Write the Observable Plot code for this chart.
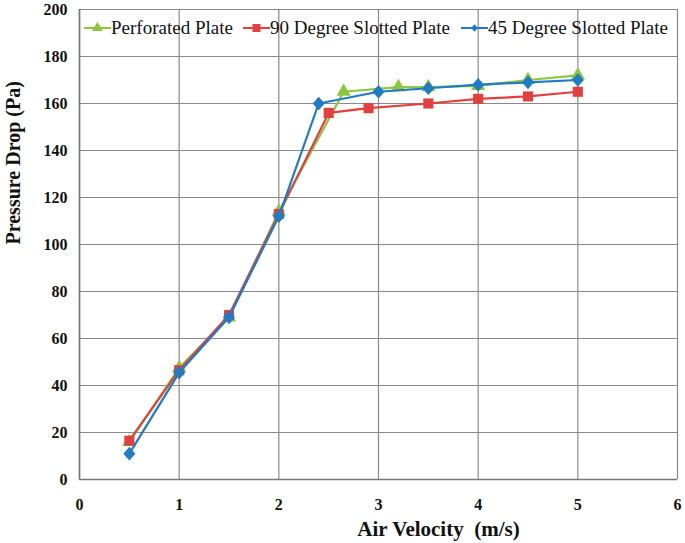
<!DOCTYPE html>
<html>
<head>
<meta charset="utf-8">
<script src="https://cdn.jsdelivr.net/npm/d3@7"></script>
<script src="https://cdn.jsdelivr.net/npm/@observablehq/plot@0.6"></script>
<style>
  body { margin: 0; background: #fff; }
  #wrap { position: relative; width: 685px; height: 543px; font-family: "Liberation Serif", "DejaVu Serif", serif; }
  #legend { position: absolute; top: 17px; left: 0; width: 685px; height: 24px; font-size: 19px; color: #111; white-space: nowrap; }
  #legend .item { position: absolute; top: 0; display: flex; align-items: center; }
  #legend svg { margin-right: 0px; }
</style>
</head>
<body>
<div id="wrap"><div id="legend"></div></div>
<script>
const seriesNames = ["Perforated Plate", "90 Degree Slotted Plate", "45 Degree Slotted Plate"];
const seriesColors = ["#8dc63f", "#e2403f", "#1f7bc4"];

const perforatedX = [0.5, 1, 1.5, 2, 2.65, 3.2, 3.5, 4, 4.5, 5];
const perforatedY = [16, 47.5, 69, 114, 165, 167, 167, 167.5, 170, 172];
const slot90X = [0.5, 1, 1.5, 2, 2.5, 2.9, 3.5, 4, 4.5, 5];
const slot90Y = [16.5, 46.5, 70, 113, 156, 158, 160, 162, 163, 165];
const slot45X = [0.5, 1, 1.5, 2, 2.4, 3, 3.5, 4, 4.5, 5];
const slot45Y = [11, 45.5, 69, 112, 160, 165, 166.5, 168, 169, 170];

const xTicks = [0, 1, 2, 3, 4, 5, 6];
const yTicks = [0, 20, 40, 60, 80, 100, 120, 140, 160, 180, 200];

// rhombus marker similar to the spreadsheet diamond
const rhombus = {
  draw(ctx, size) {
    const s = Math.sqrt(size);
    const w = 0.53 * s, h = 0.6 * s;
    ctx.moveTo(0, -h); ctx.lineTo(w, 0); ctx.lineTo(0, h); ctx.lineTo(-w, 0); ctx.closePath();
  }
};
const seriesSymbols = [d3.symbolTriangle, d3.symbolSquare, rhombus];
const seriesR = [5.3, 5.7, 6.4];

const xs = [perforatedX, slot90X, slot45X];
const ys = [perforatedY, slot90Y, slot45Y];
const data = [];
seriesNames.forEach((name, i) => {
  xs[i].forEach((x, j) => data.push({series: name, x, y: ys[i][j]}));
});

const font = '"Liberation Serif", "DejaVu Serif", serif';
const marks = [
  Plot.gridX(xTicks, {stroke: "#8a8a8a", strokeOpacity: 1, strokeWidth: 1.2}),
  Plot.gridY(yTicks, {stroke: "#8a8a8a", strokeOpacity: 1, strokeWidth: 1.2}),
  Plot.ruleX([0], {stroke: "#777", strokeWidth: 1.6}),
  Plot.ruleY([0], {stroke: "#777", strokeWidth: 1.6}),
  Plot.axisX({ticks: xTicks, tickSize: 0, tickPadding: 19, fontSize: 16, fontWeight: "bold", label: null, tickFormat: d => String(d)}),
  Plot.axisY({ticks: yTicks, tickSize: 0, tickPadding: 12, fontSize: 16, fontWeight: "bold", label: null, tickFormat: d => String(d)}),
  Plot.text(["Air Velocity  (m/s)"], {frameAnchor: "bottom", dx: 60, dy: 56, fontSize: 21, fontWeight: "bold", fill: "#111"}),
  Plot.text(["Pressure Drop (Pa)"], {frameAnchor: "left", dx: -66, rotate: -90, fontSize: 20, fontWeight: "bold", fill: "#111"})
];
seriesNames.forEach((name, i) => {
  const d = data.filter(r => r.series === name);
  marks.push(Plot.line(d, {x: "x", y: "y", stroke: seriesColors[i], strokeWidth: 2.2}));
  marks.push(Plot.dot(d, {x: "x", y: "y", fill: seriesColors[i], symbol: seriesSymbols[i], r: seriesR[i]}));
});

const chart = Plot.plot({
  width: 685, height: 543,
  marginLeft: 79, marginRight: 8, marginTop: 9, marginBottom: 64,
  style: {fontFamily: font, color: "#111", background: "#fff"},
  x: {domain: [0, 6]},
  y: {domain: [0, 200]},
  marks
});
chart.querySelectorAll("text").forEach(t => t.setAttribute("xml:space", "preserve"));
chart.style.whiteSpace = "pre";
document.getElementById("wrap").prepend(chart);

const legend = document.getElementById("legend");
const legendLeft = [84, 243, 461];
const legendSizes = [50, 64, 40];
seriesNames.forEach((name, i) => {
  const item = document.createElement("div");
  item.className = "item";
  item.style.left = legendLeft[i] + "px";
  const sym = d3.symbol(seriesSymbols[i], legendSizes[i])();
  item.innerHTML = `<svg width="27" height="14"><line x1="0" x2="27" y1="7" y2="7" stroke="${seriesColors[i]}" stroke-width="2"/><path d="${sym}" transform="translate(13.5,7)" fill="${seriesColors[i]}"/></svg><span>${name}</span>`;
  legend.appendChild(item);
});
</script>
</body>
</html>
